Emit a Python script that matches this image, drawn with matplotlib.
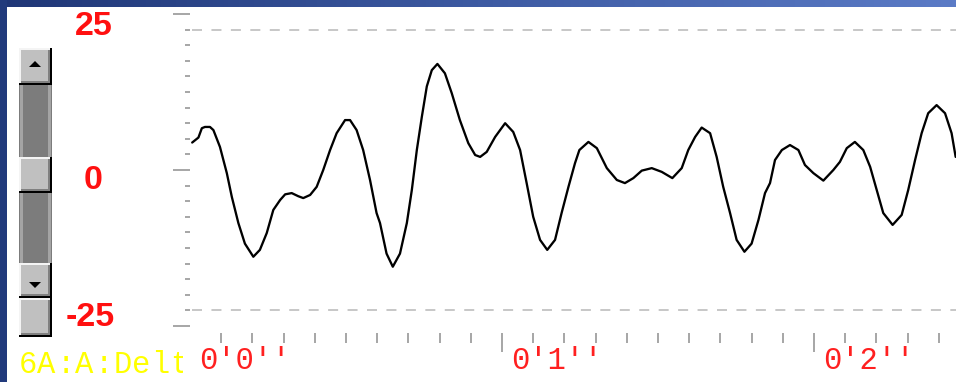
import matplotlib
matplotlib.use("Agg")
import matplotlib.pyplot as plt
import numpy as np
from matplotlib.patches import Rectangle, Polygon
from matplotlib.colors import LinearSegmentedColormap
from matplotlib.ticker import FixedLocator, MultipleLocator
from matplotlib.transforms import blended_transform_factory, ScaledTranslation, Bbox, TransformedBbox

# channel trace (seconds, microvolts)
t_sec = [0.007, 0.027, 0.038, 0.048, 0.064, 0.075, 0.096, 0.118, 0.134, 0.155,
         0.176, 0.203, 0.224, 0.246, 0.267, 0.289, 0.305, 0.326, 0.347, 0.363,
         0.385, 0.406, 0.427, 0.449, 0.470, 0.497, 0.513, 0.534, 0.555, 0.577,
         0.598, 0.609, 0.630, 0.650, 0.673, 0.695, 0.711, 0.727, 0.743, 0.759,
         0.775, 0.793, 0.817, 0.839, 0.865, 0.892, 0.914, 0.930, 0.951, 0.978,
         1.010, 1.036, 1.058, 1.079, 1.100, 1.122, 1.145, 1.170, 1.191, 1.213,
         1.234, 1.248, 1.277, 1.304, 1.336, 1.368, 1.394, 1.421, 1.448, 1.480,
         1.512, 1.546, 1.576, 1.597, 1.619, 1.640, 1.667, 1.688, 1.709, 1.731,
         1.752, 1.777, 1.800, 1.822, 1.843, 1.859, 1.875, 1.897, 1.923, 1.950,
         1.971, 1.998, 2.030, 2.062, 2.083, 2.105, 2.131, 2.158, 2.180, 2.201,
         2.222, 2.252, 2.281, 2.302, 2.324, 2.345, 2.366, 2.393, 2.420, 2.441,
         2.454]
uv = [4.4, 5.2, 6.7, 6.9, 6.9, 6.4, 3.7, -0.5, -4.3, -8.5,
      -11.8, -13.9, -12.8, -10.1, -6.4, -4.8, -3.9, -3.7, -4.2, -4.5,
      -4.0, -2.7, 0.0, 3.2, 5.9, 8.0, 8.0, 6.4, 3.2, -1.6,
      -6.9, -8.5, -13.4, -15.5, -13.4, -8.5, -3.2, 3.2, 8.5, 13.4,
      16.0, 17.0, 15.5, 12.3, 8.0, 4.3, 2.4, 2.1, 2.9, 5.3,
      7.5, 6.1, 3.2, -2.1, -7.5, -11.2, -12.8, -11.2, -6.9, -2.7,
      1.1, 3.2, 4.5, 3.5, 0.3, -1.6, -2.1, -1.3, -0.1, 0.3,
      -0.3, -1.3, 0.3, 3.2, 5.3, 6.8, 5.9, 2.1, -2.7, -6.9,
      -11.2, -13.1, -11.8, -8.0, -3.7, -2.1, 1.6, 3.2, 4.0, 3.2,
      0.8, -0.5, -1.7, 0.0, 1.3, 3.5, 4.5, 3.2, 0.5, -3.2,
      -6.9, -8.8, -7.2, -3.2, 1.6, 5.9, 9.1, 10.4, 9.1, 5.9,
      2.1]

scale_labels = [25, 0, -25]
grid_levels = [22.5, -22.5]
second_marks = [0, 1, 2]
channel_name = "6A:A:Delta"

W, H = 956, 382
px = 0.72  # points per pixel at 100 dpi
plt.rcParams['lines.scale_dashes'] = False

fig = plt.figure(figsize=(W / 100, H / 100), dpi=100)
fig.patch.set_facecolor('white')

# pixel-space layer for window furniture
ui = fig.add_axes([0, 0, 1, 1], zorder=0)
ui.set_facecolor('white')

# trace axes
x0, y_base, y_zero, ppu, pps = 190, 333, 170, 6.24, 312
ax = fig.add_axes([x0 / W, (H - y_base) / H, (W - x0) / W, y_base / H], zorder=1)
ax.set_facecolor('none')
ax.set_xlim(0, (W - x0) / pps)
ax.set_ylim((y_zero - y_base) / ppu, y_zero / ppu)
for s in ax.spines.values():
    s.set_visible(False)

ax.plot(t_sec, uv, color='black', lw=2.3 * px, solid_joinstyle='round', solid_capstyle='round')
ax.hlines(grid_levels, 2 / pps, ax.get_xlim()[1], colors='#c8c8c8', lw=2 * px,
          linestyles=(0, (7.2, 6.8)))

ax.yaxis.set_major_locator(FixedLocator(scale_labels))
ax.yaxis.set_minor_locator(MultipleLocator(2.5))
ax.xaxis.set_major_locator(FixedLocator(second_marks[1:]))
# tenths of a second, no tick at the origin
ax.xaxis.set_minor_locator(FixedLocator([i / 10 for i in range(1, 25) if i % 10]))
ax.tick_params(axis='both', which='both', color='#a8a8a8', width=2 * px, direction='out',
               labelleft=False, labelbottom=False)
ax.tick_params(axis='y', which='major', length=17 * px)
ax.tick_params(axis='y', which='minor', length=5 * px)
ax.tick_params(axis='x', which='major', length=19 * px)
ax.tick_params(axis='x', which='minor', length=10 * px)

ui.set_xlim(0, W)
ui.set_ylim(H, 0)
ui.axis('off')

# time labels
tr = blended_transform_factory(ax.transData, ui.transData) + ScaledTranslation(9 / 100, 0, fig.dpi_scale_trans)
for s in second_marks:
    ui.text(s, 369, "0'%d''" % s, transform=tr, color='#ff2020', fontsize=22,
            family='Liberation Mono', ha='left', va='baseline')

# amplitude labels
for val, (xc, yb) in zip(scale_labels, [(93.5, 35), (93.5, 189), (90.5, 326)]):
    ui.text(xc, yb, str(val), color='#ff1010', fontsize=24.5, fontweight='bold',
            family='Liberation Sans', ha='center', va='baseline')

# channel name on a fixed character grid, cut off at the trace edge
name_edge = 183
name_clip = TransformedBbox(Bbox([[0, 330], [name_edge, H]]), ui.transData)
for i, ch in enumerate(channel_name):
    xc = 27.5 + 19 * i
    if xc - 9.5 >= name_edge:
        break
    c = ui.text(xc, 373, ch, color='#ffff00', fontsize=22,
                family='Liberation Mono', ha='center', va='baseline')
    c.set_clip_box(name_clip)
    c.set_clip_on(True)

# scrollbar
sx0, sx1 = 19, 52
sw = sx1 - sx0


def button(y0, y1):
    h = y1 - y0
    ui.add_patch(Rectangle((sx0, y0), sw, h, fc='#c0c0c0', ec='none', zorder=2))
    ui.add_patch(Rectangle((sx0, y0), sw, 2, fc='#f4f4f4', ec='none', zorder=3))
    ui.add_patch(Rectangle((sx0, y0), 2, h, fc='#f4f4f4', ec='none', zorder=3))
    ui.add_patch(Rectangle((sx0 + 2, y1 - 4), sw - 4, 2, fc='#808080', ec='none', zorder=3))
    ui.add_patch(Rectangle((sx1 - 4, y0 + 2), 2, h - 4, fc='#808080', ec='none', zorder=3))
    ui.add_patch(Rectangle((sx0, y1 - 2), sw, 2, fc='black', ec='none', zorder=3))
    ui.add_patch(Rectangle((sx1 - 2, y0), 2, h, fc='black', ec='none', zorder=3))


def track(y0, y1):
    ui.add_patch(Rectangle((sx0, y0), sw, y1 - y0, fc='#7c7c7c', ec='none', zorder=2))
    ui.add_patch(Rectangle((sx0 + 1, y0), 3, y1 - y0, fc='#a4a4a4', ec='none', zorder=3))
    ui.add_patch(Rectangle((sx1 - 4, y0), 3, y1 - y0, fc='#a4a4a4', ec='none', zorder=3))


track(85, 157)
track(193, 263)
button(48, 85)
button(157, 193)
button(263, 298)
button(298, 337)
ui.add_patch(Polygon([(29, 67), (41, 67), (35, 61)], fc='black', ec='none', zorder=4))
ui.add_patch(Polygon([(29, 282), (41, 282), (35, 288)], fc='black', ec='none', zorder=4))

# window frame
cmap = LinearSegmentedColormap.from_list('frame', ['#1f3676', '#3d5aa2', '#5b7bc6'])
ui.imshow(np.linspace(0, 1, 256)[None, :], cmap=cmap, aspect='auto',
          extent=(0, W, 7, 0), zorder=5)
ui.add_patch(Rectangle((0, 0), 7, H, fc='#213a7c', ec='none', zorder=6))
ui.set_xlim(0, W)
ui.set_ylim(H, 0)

fig.savefig('out.png', dpi=100)
